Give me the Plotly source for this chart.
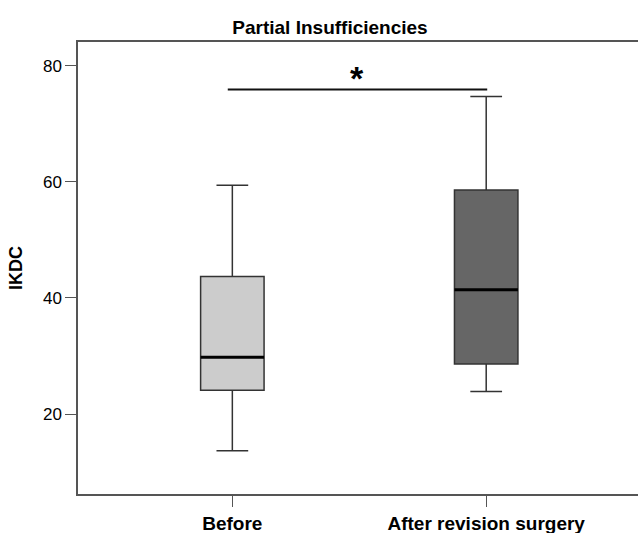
import plotly.graph_objects as go

categories = ["Before", "After revision surgery"]
positions = [0, 1]
lower_whisker = [13.7, 23.9]
q1 = [24.1, 28.6]
median = [29.8, 41.4]
q3 = [43.7, 58.6]
upper_whisker = [59.4, 74.7]
fill_colors = ["#cccccc", "#666666"]
y_ticks = [20, 40, 60, 80]
sig_y = 75.9
sig_label = "*"

FONT = "Arial, Liberation Sans, sans-serif"
box_w = 0.25
fig = go.Figure()
for i in range(2):
    fig.add_trace(go.Box(
        x=[positions[i]], q1=[q1[i]], median=[median[i]], q3=[q3[i]],
        lowerfence=[lower_whisker[i]], upperfence=[upper_whisker[i]],
        width=box_w, whiskerwidth=0.5, fillcolor=fill_colors[i],
        line=dict(color="#333333", width=1.5), showlegend=False,
        hoverinfo="skip", boxpoints=False))
    fig.add_trace(go.Scatter(
        x=[positions[i] - box_w / 2, positions[i] + box_w / 2],
        y=[median[i], median[i]], mode="lines",
        line=dict(color="#000000", width=3), showlegend=False, hoverinfo="skip"))

# significance bar
fig.add_trace(go.Scatter(x=[positions[0] - 0.018, positions[1] + 0.004], y=[sig_y, sig_y],
                         mode="lines", line=dict(color="#111111", width=2),
                         showlegend=False, hoverinfo="skip"))
fig.add_annotation(x=(positions[0] + positions[1]) / 2 - 0.01, y=sig_y, text="<b>" + sig_label + "</b>",
                   showarrow=False, yanchor="bottom", yshift=-10,
                   font=dict(size=34, color="#000000", family=FONT))

fig.update_layout(
    width=638, height=533,
    margin=dict(l=78, r=0, t=42, b=39),
    paper_bgcolor="white", plot_bgcolor="white",
    font=dict(family=FONT, color="#111111", size=17),
    title=dict(text="<b>Partial Insufficiencies</b>", x=330 / 638, xanchor="center",
               y=1 - 27 / 533, yanchor="middle",
               font=dict(size=19, color="#000000")),
    xaxis=dict(range=[-0.608, 1.598], tickvals=positions,
               ticktext=["<b>" + c + "</b>" for c in categories],
               showgrid=False, zeroline=False, showline=True, linecolor="#555555",
               linewidth=1.5, mirror=True, ticks="outside", ticklen=11, tickwidth=1.3,
               tickcolor="#555555", tickfont=dict(size=19, color="#000000"),
               automargin=False),
    yaxis=dict(range=[6.23, 84.08], tickvals=y_ticks, showgrid=False, zeroline=False,
               showline=True, linecolor="#555555", linewidth=1.5,
               ticks="outside", ticklen=11, tickwidth=1.3, tickcolor="#555555",
               tickfont=dict(size=17, color="#000000"), automargin=False,
               title=dict(text="<b>IKDC</b>", font=dict(size=18, color="#000000"), standoff=16)),
)

fig.write_html("out.html", config={"displayModeBar": False},
               post_script="document.body.style.margin='0';document.body.style.overflow='hidden';")
